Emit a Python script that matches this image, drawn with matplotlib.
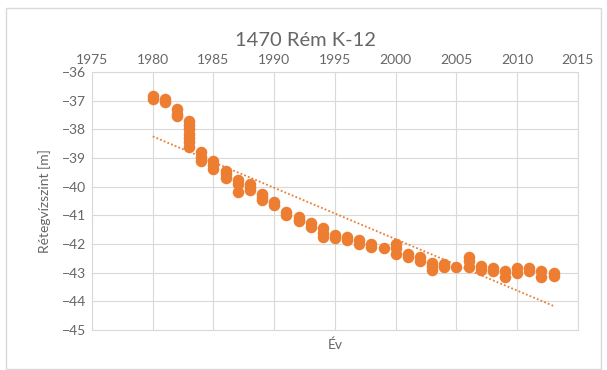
import numpy as np
import matplotlib.pyplot as plt
from matplotlib.patches import Rectangle

# readings per year (water level, m)
years = list(range(1980, 2014))
levels = [
    [-36.85, -36.95],
    [-36.95, -37.05],
    [-37.3, -37.45, -37.55],
    [-37.7, -37.85, -38.0, -38.15, -38.3, -38.45, -38.6],
    [-38.8, -38.95, -39.1],
    [-39.1, -39.25, -39.4],
    [-39.45, -39.55, -39.7],
    [-39.75, -39.9, -40.2],
    [-39.9, -40.0, -40.1],
    [-40.25, -40.35, -40.45],
    [-40.55, -40.65],
    [-40.9, -41.0],
    [-41.05, -41.15, -41.2],
    [-41.25, -41.4],
    [-41.45, -41.6, -41.75],
    [-41.7, -41.8],
    [-41.75, -41.85],
    [-41.85, -42.0],
    [-42.0, -42.1],
    [-42.15],
    [-42.0, -42.15, -42.35],
    [-42.35, -42.45],
    [-42.45, -42.6],
    [-42.65, -42.75, -42.9],
    [-42.7, -42.8],
    [-42.8],
    [-42.45, -42.6, -42.8],
    [-42.75, -42.9],
    [-42.85, -42.95],
    [-42.95, -43.15],
    [-42.85, -43.0],
    [-42.85, -42.95],
    [-42.95, -43.15],
    [-43.0, -43.1],
]

x = []
y = []
for yr, vals in zip(years, levels):
    for v in vals:
        x.append(yr)
        y.append(v)
x = np.array(x)
y = np.array(y)

orange = "#ED7D31"
gray = "#666666"
plt.rcParams['font.family'] = ['Lato', 'DejaVu Sans']

fig = plt.figure(figsize=(6.07, 3.70), dpi=100)
ax = fig.add_axes([0.1516, 0.108, 0.8004, 0.6974])

ax.plot(x, y, 'o', color=orange, markersize=8.3, markeredgewidth=0, zorder=3)

# linear trend
k, b = np.polyfit(x, y, 1)
tx = np.array([years[0], years[-1]])
ax.plot(tx, k * tx + b, linestyle=(0, (1, 1.2)), color=orange, linewidth=1.3, zorder=2)

ax.set_xlim(1975, 2015)
ax.set_ylim(-45, -36)
ax.set_xticks(range(1975, 2016, 5))
ax.set_yticks(range(-45, -35, 1))
ax.xaxis.tick_top()
ax.tick_params(length=0, labelsize=10, colors=gray, pad=4)
ax.grid(color="#D9D9D9", linewidth=0.8)
ax.set_axisbelow(True)
for s in ax.spines.values():
    s.set_color("#D9D9D9")
    s.set_linewidth(0.8)

ax.set_xlabel("Év", color=gray, fontsize=10, labelpad=6)
ax.set_ylabel("Rétegvízszint [m]", color=gray, fontsize=10, labelpad=8)
fig.text(0.503, 0.89, "1470 Rém K-12", ha='center', va='center', fontsize=14.5, color=gray)

fig.patches.append(Rectangle((6 / 607, 0.003), 595 / 607, 1 - 8 / 370 - 0.003,
                             transform=fig.transFigure, fill=False,
                             edgecolor="#D9D9D9", linewidth=1))

fig.savefig("out.png", dpi=100)
